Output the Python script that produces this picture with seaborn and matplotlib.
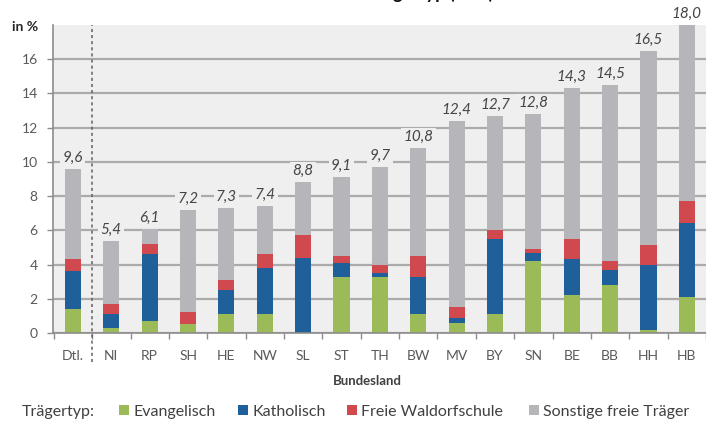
import numpy as np
import pandas as pd
import matplotlib
matplotlib.use("Agg")
import matplotlib.pyplot as plt
import matplotlib.transforms as mtransforms
from matplotlib.patches import Patch
import seaborn as sns

# data (in %)
laender = ["Dtl.", "NI", "RP", "SH", "HE", "NW", "SL", "ST", "TH",
           "BW", "MV", "BY", "SN", "BE", "BB", "HH", "HB"]
evangelisch = [1.4, 0.3, 0.7, 0.5, 1.1, 1.1, 0.0, 3.3, 3.3, 1.1, 0.6, 1.1, 4.2, 2.2, 2.8, 0.15, 2.1]
katholisch = [2.2, 0.8, 3.9, 0.0, 1.4, 2.7, 4.4, 0.8, 0.2, 2.2, 0.3, 4.4, 0.5, 2.1, 0.9, 3.8, 4.3]
waldorf = [0.7, 0.6, 0.6, 0.7, 0.6, 0.8, 1.3, 0.4, 0.5, 1.2, 0.6, 0.5, 0.2, 1.2, 0.5, 1.2, 1.3]
sonstige = [5.3, 3.7, 0.9, 6.0, 4.2, 2.8, 3.1, 4.6, 5.7, 6.3, 10.9, 6.7, 7.9, 8.8, 10.3, 11.35, 10.3]

series_names = ["Evangelisch", "Katholisch", "Freie Waldorfschule", "Sonstige freie Träger"]
colors = ["#9bbb59", "#1f5f9a", "#d0494f", "#b6b6ba"]

df = pd.DataFrame({"land": laender, "ev": evangelisch, "kat": katholisch,
                   "wal": waldorf, "son": sonstige})
df["c1"] = df["ev"]
df["c2"] = df["c1"] + df["kat"]
df["c3"] = df["c2"] + df["wal"]
df["c4"] = df["c3"] + df["son"]

sns.set_theme(style="whitegrid")
plt.rcParams["font.family"] = ["Lato", "DejaVu Sans"]

fig = plt.figure(figsize=(7.06, 4.23), dpi=100)
ax = fig.add_axes([53 / 706, 1 - 333 / 423, 1 - 53 / 706, (333 - 25) / 423])
ax.set_facecolor("#efefef")

# stacked bars: draw cumulative totals from top layer down
for col, c in zip(["c4", "c3", "c2", "c1"], colors[::-1]):
    sns.barplot(data=df, x="land", y=col, order=laender, color=c,
                saturation=1, width=0.42, linewidth=0, ax=ax)

ax.set_xlim(-0.52, 16.34)
ax.set_ylim(0, 18)
ax.set_yticks(np.arange(0, 18, 2))

ax.grid(axis="y", color="#ababab", linewidth=1.6)
ax.grid(axis="x", visible=False)
ax.set_axisbelow(True)

for side in ["top", "right"]:
    ax.spines[side].set_visible(False)
for side in ["left", "bottom"]:
    ax.spines[side].set_visible(True)
    ax.spines[side].set_color("#8c8c8c")
    ax.spines[side].set_linewidth(1.2)

# major ticks at category boundaries, labels on minor ticks
ax.set_xticks(np.arange(-0.5, len(laender), 1))
ax.set_xticklabels([])
ax.set_xticks(np.arange(len(laender)), minor=True)
ax.set_xticklabels(laender, minor=True)
ax.tick_params(axis="x", which="major", length=4, width=1, color="#8c8c8c", direction="out", bottom=True)
ax.tick_params(axis="x", which="minor", length=0, pad=12, labelsize=10, labelcolor="#595959")
ax.tick_params(axis="y", length=4, width=1, color="#8c8c8c", direction="out", left=True,
               pad=7, labelsize=10, labelcolor="#595959")
ax.set_xlabel("")
ax.set_ylabel("")

# total labels (box matches the background they sit on)
totals = df["c4"].values
for i, t in enumerate(totals):
    box_fc = "white" if t > 17 else "#efefef"
    ax.annotate(f"{t:.1f}".replace(".", ","), (i, t), xytext=(0, 3),
                textcoords="offset points", ha="center", va="bottom",
                fontsize=11, style="italic", color="#454545", annotation_clip=False,
                bbox=dict(boxstyle="square,pad=0.15", fc=box_fc, ec="none"))

# dashed separator between Germany and the states
trans = mtransforms.blended_transform_factory(ax.transData, ax.transAxes)
ax.plot([0.5, 0.5], [-0.095, 1.0], transform=trans, color="#606060",
        linestyle=(0, (2, 2)), linewidth=1.1, clip_on=False)

fig.text(12 / 706, 1 - 27 / 423, "in %", fontsize=10, fontweight="bold",
         color="#262626", va="center")
fig.text(367 / 706, 1 - 381 / 423, "Bundesland", fontsize=9.5, fontweight="bold",
         color="#404040", ha="center", va="center")
# title is cropped at the top edge in the reference, only its lower part shows
fig.text(0.33, 1 + 1.5 / 423, "Schülerinnen und Schüler an freien Schulen nach Trägertyp (in %)",
         fontsize=13, fontweight="bold", color="#111111", ha="center", va="baseline")

# legend row, entries placed like the reference
legend_y = 1 - 412 / 423
fig.text(22 / 706, legend_y, "Trägertyp:", fontsize=11.5, color="#404040", va="center")
legend_x = [119, 238, 347, 529]
for c, n, x in zip(colors, series_names, legend_x):
    fig.legend(handles=[Patch(facecolor=c, edgecolor="none", label=n)], loc="center left",
               bbox_to_anchor=(x / 706, legend_y), frameon=False, handlelength=0.6,
               handleheight=0.6, handletextpad=0.3, fontsize=11.5, labelcolor="#404040",
               borderaxespad=0, borderpad=0)

fig.savefig("out.png", dpi=100, facecolor="white")
